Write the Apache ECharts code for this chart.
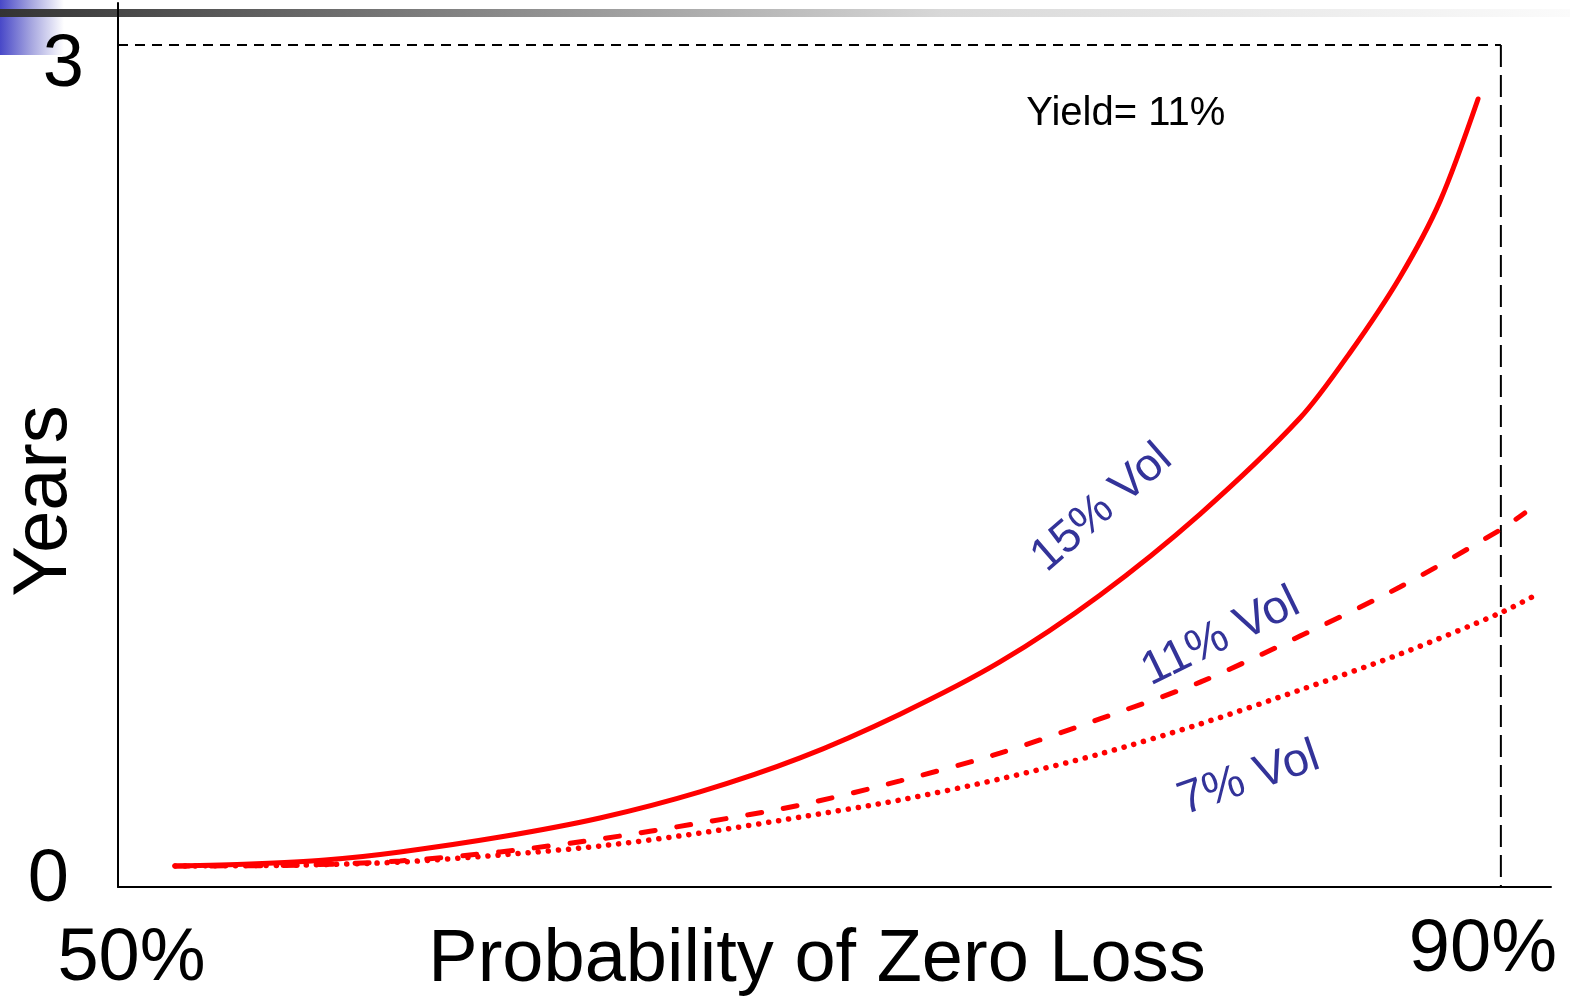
<!DOCTYPE html>
<html>
<head>
<meta charset="utf-8">
<script src="https://cdn.jsdelivr.net/npm/echarts@6/dist/echarts.min.js"></script>
<style>
html,body{margin:0;padding:0;background:#fff;}
#chart{width:1570px;height:997px;}
</style>
</head>
<body>
<div id="chart"></div>
<script>
// ---- data ----
const xTicks = [50, 90];
const xTickLabels = ['50%', '90%'];
const yTicks = [0, 3];
const yTickLabels = ['0', '3'];
const xAxisName = 'Probability of Zero Loss';
const yAxisName = 'Years';
const seriesNames = ['15% Vol', '11% Vol', '7% Vol'];
const yieldNote = 'Yield= 11%';

// [probability of zero loss (%), years]
const vol15 = [[51.65,0.075],[53.82,0.082],[55.99,0.096],[58.16,0.125],[61.05,0.178],[63.94,0.246],[66.83,0.339],[69.73,0.460],[72.62,0.616],[75.51,0.802],[78.40,1.040],[81.30,1.329],[84.19,1.671],[85.63,1.903],[87.08,2.173],[88.24,2.444],[89.34,2.808]];
const vol11 = [[51.65,0.075],[55.26,0.078],[58.16,0.093],[61.05,0.125],[63.94,0.171],[66.83,0.228],[69.73,0.292],[72.62,0.378],[75.51,0.477],[78.40,0.599],[81.30,0.730],[84.19,0.894],[87.08,1.069],[89.97,1.272],[90.69,1.333]];
const vol7 = [[51.65,0.075],[55.26,0.078],[58.16,0.089],[61.05,0.114],[63.94,0.146],[66.83,0.192],[69.73,0.249],[72.62,0.310],[75.51,0.385],[78.40,0.474],[81.30,0.581],[84.19,0.702],[87.08,0.830],[89.97,0.976],[91.13,1.048]];
const refTop = [[50,3],[90,3]];
const refRight = [[90,3],[90,0]];

// ---- layout / style (not data) ----
const FONT = '"Liberation Sans", Arial, sans-serif';
const annotations = [
  {text: seriesNames[0], at: [78.46, 1.350], rot: 41, color: '#333399', size: 46},
  {text: seriesNames[1], at: [81.90, 0.891], rot: 26, color: '#333399', size: 47},
  {text: seriesNames[2], at: [82.71, 0.385], rot: 19, color: '#333399', size: 47},
  {text: yieldNote, at: [79.15, 2.755], rot: 0, color: '#000000', size: 40}
];

const chart = echarts.init(document.getElementById('chart'), null, {renderer: 'canvas'});

function xLabel(v) {
  for (let i = 0; i < xTicks.length; i++) if (Math.abs(v - xTicks[i]) < 1e-6) return '{x' + i + '|' + xTickLabels[i] + '}';
  return '';
}
function yLabel(v) {
  for (let i = 0; i < yTicks.length; i++) if (Math.abs(v - yTicks[i]) < 1e-6) return '{y' + i + '|' + yTickLabels[i] + '}';
  return '';
}

const bigText = {fontSize: 74, lineHeight: 74, fontFamily: FONT, color: '#000'};

chart.setOption({
  animation: false,
  backgroundColor: '#fff',
  grid: {left: 118, right: 19, top: 3, bottom: 110, containLabel: false, outerBoundsMode: 'none'},
  xAxis: {
    type: 'value', min: 50, max: 91.45, interval: 10,
    name: xAxisName, nameLocation: 'middle', nameGap: 37, nameMoveOverlap: false,
    nameTextStyle: {fontSize: 74, fontFamily: FONT, color: '#000', padding: [0, 35, 0, 0]},
    axisLine: {show: true, lineStyle: {color: '#000', width: 2}},
    axisTick: {show: false},
    splitLine: {show: false},
    axisLabel: {
      margin: 10, formatter: xLabel, showMaxLabel: false, hideOverlap: false,
      rich: {
        x0: Object.assign({}, bigText, {padding: [52, 0, 0, 27]}),
        x1: Object.assign({}, bigText, {padding: [33, 36, 0, 0]})
      }
    }
  },
  yAxis: {
    type: 'value', min: 0, max: 3.15, interval: 3,
    name: yAxisName, nameLocation: 'middle', nameGap: 35, nameMoveOverlap: false,
    nameTextStyle: {fontSize: 76, fontFamily: FONT, color: '#000', padding: [0, 112, 0, 0]},
    axisLine: {show: true, lineStyle: {color: '#000', width: 2}},
    axisTick: {show: false},
    splitLine: {show: false},
    axisLabel: {
      margin: 8, formatter: yLabel, showMaxLabel: false, hideOverlap: false,
      rich: {
        y0: Object.assign({}, bigText, {padding: [0, 41, 13, 0]}),
        y1: Object.assign({}, bigText, {padding: [41, 26, 0, 0]})
      }
    }
  },
  series: [
    {name: 'refTop', type: 'line', data: refTop, symbol: 'none', silent: true,
     lineStyle: {color: '#000', width: 2, type: [10, 7]}, z: 1},
    {name: 'refRight', type: 'line', data: refRight, symbol: 'none', silent: true,
     lineStyle: {color: '#000', width: 2, type: [22, 8]}, z: 1},
    {name: seriesNames[0], type: 'line', data: vol15, symbol: 'none', smooth: 0.3,
     lineStyle: {color: '#ff0000', width: 5, cap: 'round'}, z: 3},
    {name: seriesNames[1], type: 'line', data: vol11, symbol: 'none', smooth: 0.3,
     lineStyle: {color: '#ff0000', width: 5, type: [14, 22], cap: 'round'}, z: 3},
    {name: seriesNames[2], type: 'line', data: vol7, symbol: 'none', smooth: 0.3,
     lineStyle: {color: '#ff0000', width: 5.5, type: [0.1, 10], cap: 'round'}, z: 3}
  ]
});

const graphics = [
  {type: 'rect', shape: {x: 0, y: 0, width: 64, height: 55}, z: -10, silent: true,
   style: {fill: new echarts.graphic.LinearGradient(0, 0, 1, 0, [{offset: 0, color: '#4848c8'}, {offset: 0.5, color: '#a8a8e0'}, {offset: 1, color: '#ffffff'}])}},
  {type: 'rect', shape: {x: 0, y: 9, width: 1570, height: 8}, z: -9, silent: true,
   style: {fill: new echarts.graphic.LinearGradient(0, 0, 1, 0, [{offset: 0, color: '#333333'}, {offset: 0.25, color: '#777777'}, {offset: 0.6, color: '#d8d8d8'}, {offset: 1, color: '#fbfbfb'}])}}
];
annotations.forEach(function (a) {
  const p = chart.convertToPixel({gridIndex: 0}, a.at);
  graphics.push({
    type: 'text', x: p[0], y: p[1], rotation: a.rot * Math.PI / 180, silent: true, z: 10,
    style: {text: a.text, fill: a.color, font: a.size + 'px ' + FONT, align: 'center', verticalAlign: 'middle'}
  });
});
chart.setOption({graphic: graphics});
</script>
</body>
</html>
